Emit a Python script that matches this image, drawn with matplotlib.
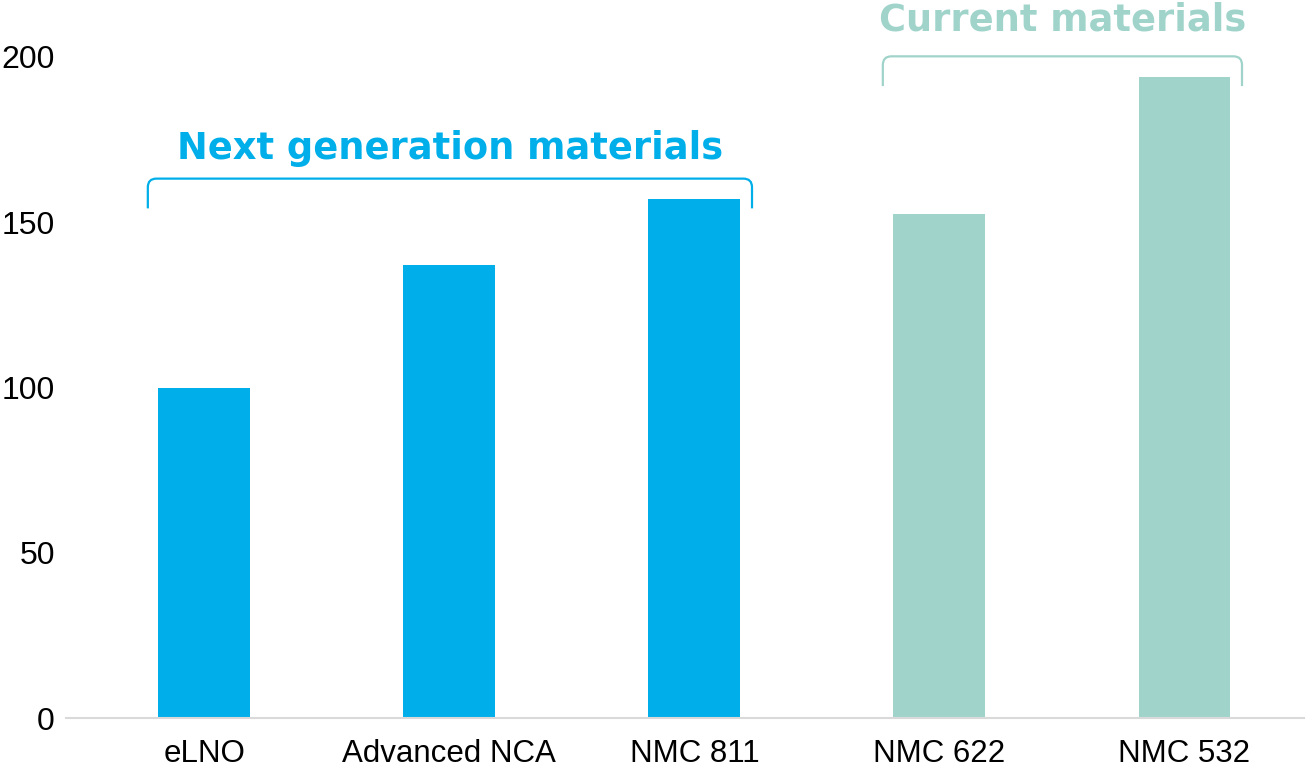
import matplotlib
matplotlib.use("Agg")
import matplotlib.pyplot as plt
from matplotlib.path import Path
from matplotlib.patches import PathPatch

categories = ["eLNO", "Advanced NCA", "NMC 811", "NMC 622", "NMC 532"]
values = [100, 137, 157, 152.5, 194]
groups = ["next", "next", "next", "current", "current"]
group_labels = {"next": "Next generation materials", "current": "Current materials"}
yticks = [0, 50, 100, 150, 200]

colors = {"next": "#00AEE9", "current": "#A0D4CB"}

fig = plt.figure(figsize=(13.09, 7.74), dpi=100)
W, H = 1309, 774
ax = fig.add_axes([66 / W, (H - 718) / H, (1304 - 66) / W, (718 - 57) / H])

x = list(range(len(categories)))
ax.bar(x, values, width=0.375, color=[colors[g] for g in groups], zorder=2)

ax.set_xlim(-0.565, 4.488)
ax.set_ylim(0, 200)
ax.set_yticks(yticks)
ax.set_xticks(x)
ax.set_xticklabels(categories, fontsize=22.5, family="Liberation Sans")
ax.set_yticklabels([str(t) for t in yticks], fontsize=23, family="Liberation Sans")
ax.tick_params(axis="both", length=0, colors="#000000")
ax.tick_params(axis="x", pad=15)
ax.tick_params(axis="y", pad=8)
for s in ["top", "right", "left"]:
    ax.spines[s].set_visible(False)
ax.spines["bottom"].set_color("#D9D9D9")
ax.spines["bottom"].set_linewidth(1.5)


def bracket(ax, x0, x1, ytop, leg, color, rx=0.035, ry=2.6):
    verts = [
        (x0, ytop - leg),
        (x0, ytop - ry),
        (x0, ytop),
        (x0 + rx, ytop),
        (x1 - rx, ytop),
        (x1, ytop),
        (x1, ytop - ry),
        (x1, ytop - leg),
    ]
    codes = [Path.MOVETO, Path.LINETO, Path.CURVE3, Path.CURVE3,
             Path.LINETO, Path.CURVE3, Path.CURVE3, Path.LINETO]
    patch = PathPatch(Path(verts, codes), fill=False, edgecolor=color,
                      linewidth=1.6, clip_on=False, zorder=3)
    ax.add_patch(patch)


for g, text_dy in [("next", 9.0), ("current", 11.0)]:
    idx = [i for i, gg in enumerate(groups) if gg == g]
    vmax = max(values[i] for i in idx)
    x0 = idx[0] - 0.231
    x1 = idx[-1] + 0.235
    ytop = vmax + 6.2
    bracket(ax, x0, x1, ytop, 9, colors[g])
    ax.text((x0 + x1) / 2, ytop + text_dy, group_labels[g], ha="center",
            va="center", fontsize=26.5, fontweight="bold", color=colors[g],
            family="DejaVu Sans", clip_on=False)

fig.savefig("out.png", dpi=100)
